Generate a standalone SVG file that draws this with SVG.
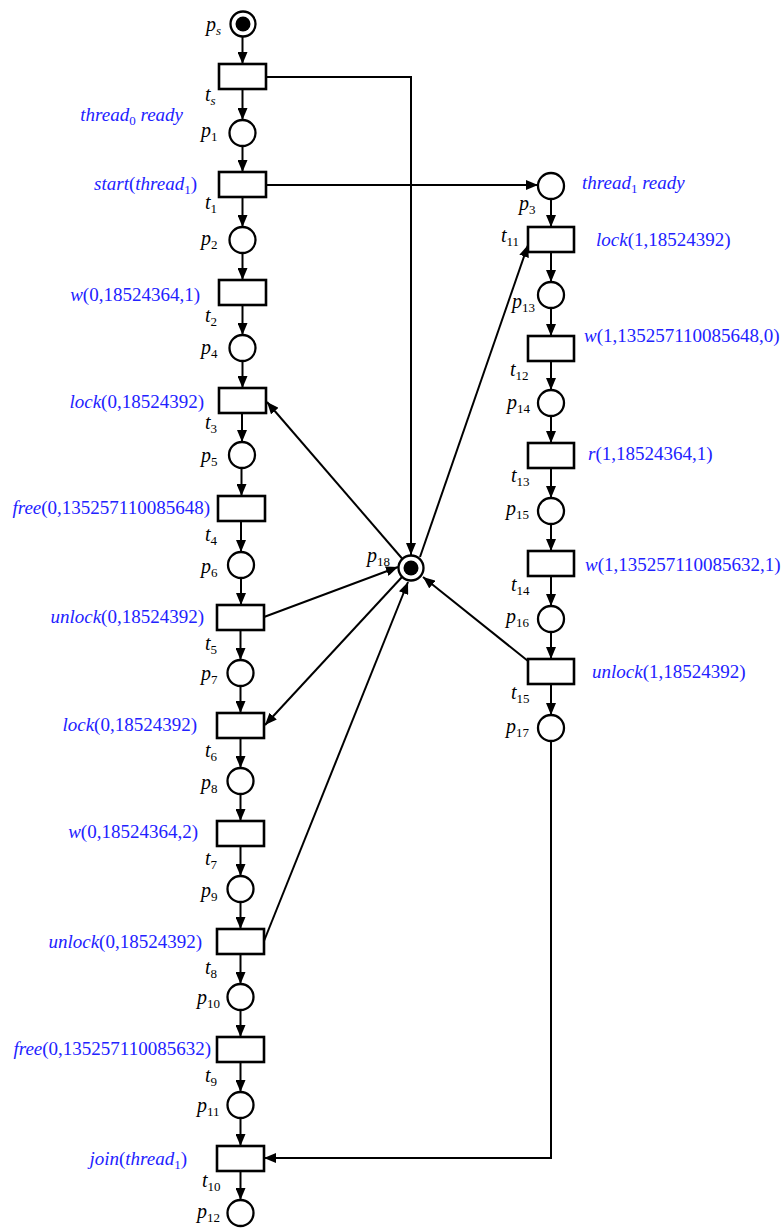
<svg xmlns="http://www.w3.org/2000/svg" width="783" height="1228" viewBox="0 0 783 1228">
<style>
.pl{fill:#fff;stroke:#000;stroke-width:2.3}
.tr{fill:#fff;stroke:#000;stroke-width:2.6}
.tok{fill:#000}
.arc{fill:none;stroke:#000;stroke-width:2;marker-end:url(#ah)}
text{font-family:"Liberation Serif","Times New Roman",serif;font-size:19px;fill:#000}
.k{font-size:20px}
.b{fill:#2222ff}
.i{font-style:italic}
.s{font-size:13px}
</style>
<defs>
<marker id="ah" markerUnits="userSpaceOnUse" markerWidth="13" markerHeight="10" refX="12" refY="5" orient="auto">
<path d="M0,0 L12,5 L0,10 z" fill="#000"/>
</marker>
</defs>
<rect width="783" height="1228" fill="#fff"/>

<g id="connectors">
<path class="arc" d="M242.5,37 V64"/>
<path class="arc" d="M242.5,89 V120"/>
<path class="arc" d="M242.5,146 V172"/>
<path class="arc" d="M242.5,197 V227"/>
<path class="arc" d="M242.5,253 V280"/>
<path class="arc" d="M242.5,305 V335"/>
<path class="arc" d="M242.5,361 V388"/>
<path class="arc" d="M242,413 V442"/>
<path class="arc" d="M241.5,468 V496"/>
<path class="arc" d="M241,521 V552"/>
<path class="arc" d="M241,578 V605"/>
<path class="arc" d="M240.5,630 V660"/>
<path class="arc" d="M240.5,686 V713"/>
<path class="arc" d="M240.5,738 V768"/>
<path class="arc" d="M240.5,794 V821"/>
<path class="arc" d="M240.5,846 V876"/>
<path class="arc" d="M240.5,902 V929"/>
<path class="arc" d="M240.5,954 V984"/>
<path class="arc" d="M240.5,1010 V1037"/>
<path class="arc" d="M240.5,1062 V1092"/>
<path class="arc" d="M240.5,1118 V1146"/>
<path class="arc" d="M240.5,1171 V1200"/>
<path class="arc" d="M551,199 V227"/>
<path class="arc" d="M551,252 V282"/>
<path class="arc" d="M551,308 V336"/>
<path class="arc" d="M551,361 V390"/>
<path class="arc" d="M551,416 V443"/>
<path class="arc" d="M551,468 V498"/>
<path class="arc" d="M551,524 V551"/>
<path class="arc" d="M551,576 V606"/>
<path class="arc" d="M551,632 V659"/>
<path class="arc" d="M551,684 V715"/>
<path class="arc" d="M266,77 H411 V555"/>
<path class="arc" d="M266,185 H538"/>
<path class="arc" d="M420,557 L528,245"/>
<path class="arc" d="M402.5,559 L267,402"/>
<path class="arc" d="M264,617 L398,567"/>
<path class="arc" d="M402,577 L265,725"/>
<path class="arc" d="M264,941 L408,582"/>
<path class="arc" d="M528,661 L423,577"/>
<path class="arc" d="M551,741 V1158 H264"/>
</g>

<g id="ps"><circle class="pl" cx="243" cy="24" r="12.5"/><circle class="tok" cx="243" cy="24" r="7.5"/></g>
<g id="ts"><rect class="tr" x="219" y="64" width="47" height="25"/></g>
<g id="p1"><circle class="pl" cx="242.5" cy="133" r="13"/></g>
<g id="t1"><rect class="tr" x="219" y="172" width="47" height="25"/></g>
<g id="p2"><circle class="pl" cx="242.5" cy="240" r="13"/></g>
<g id="t2"><rect class="tr" x="219" y="280" width="47" height="25"/></g>
<g id="p4"><circle class="pl" cx="242.5" cy="348" r="13"/></g>
<g id="t3"><rect class="tr" x="219" y="388" width="47" height="25"/></g>
<g id="p5"><circle class="pl" cx="242" cy="455" r="13"/></g>
<g id="t4"><rect class="tr" x="218" y="496" width="47" height="25"/></g>
<g id="p6"><circle class="pl" cx="241" cy="565" r="13"/></g>
<g id="t5"><rect class="tr" x="217" y="605" width="47" height="25"/></g>
<g id="p7"><circle class="pl" cx="240.5" cy="673" r="13"/></g>
<g id="t6"><rect class="tr" x="217" y="713" width="47" height="25"/></g>
<g id="p8"><circle class="pl" cx="240.5" cy="781" r="13"/></g>
<g id="t7"><rect class="tr" x="217" y="821" width="47" height="25"/></g>
<g id="p9"><circle class="pl" cx="240.5" cy="889" r="13"/></g>
<g id="t8"><rect class="tr" x="217" y="929" width="47" height="25"/></g>
<g id="p10"><circle class="pl" cx="240.5" cy="997" r="13"/></g>
<g id="t9"><rect class="tr" x="217" y="1037" width="47" height="25"/></g>
<g id="p11"><circle class="pl" cx="240.5" cy="1105" r="13"/></g>
<g id="t10"><rect class="tr" x="217" y="1146" width="47" height="25"/></g>
<g id="p12"><circle class="pl" cx="240.5" cy="1213" r="13"/></g>

<g id="p3"><circle class="pl" cx="551" cy="186" r="13"/></g>
<g id="t11"><rect class="tr" x="528" y="227" width="46" height="25"/></g>
<g id="p13"><circle class="pl" cx="551" cy="295" r="13"/></g>
<g id="t12"><rect class="tr" x="528" y="336" width="46" height="25"/></g>
<g id="p14"><circle class="pl" cx="551" cy="403" r="13"/></g>
<g id="t13"><rect class="tr" x="528" y="443" width="46" height="25"/></g>
<g id="p15"><circle class="pl" cx="551" cy="511" r="13"/></g>
<g id="t14"><rect class="tr" x="528" y="551" width="46" height="25"/></g>
<g id="p16"><circle class="pl" cx="551" cy="619" r="13"/></g>
<g id="t15"><rect class="tr" x="528" y="659" width="46" height="25"/></g>
<g id="p17"><circle class="pl" cx="551" cy="728" r="13"/></g>
<g id="p18"><circle class="pl" cx="411" cy="568" r="12.5"/><circle class="tok" cx="411" cy="568" r="7.5"/></g>

<g id="labels">
<text class="k" x="206" y="31"><tspan class="i">p</tspan><tspan class="s i" dy="4">s</tspan></text>
<text class="k" x="205" y="101"><tspan class="i">t</tspan><tspan class="s i" dy="4">s</tspan></text>
<text class="k" x="201" y="137"><tspan class="i">p</tspan><tspan class="s" dy="4">1</tspan></text>
<text class="k" x="205" y="209"><tspan class="i">t</tspan><tspan class="s" dy="4">1</tspan></text>
<text class="k" x="201" y="245"><tspan class="i">p</tspan><tspan class="s" dy="4">2</tspan></text>
<text class="k" x="205" y="322"><tspan class="i">t</tspan><tspan class="s" dy="4">2</tspan></text>
<text class="k" x="201" y="354"><tspan class="i">p</tspan><tspan class="s" dy="4">4</tspan></text>
<text class="k" x="205" y="429"><tspan class="i">t</tspan><tspan class="s" dy="4">3</tspan></text>
<text class="k" x="201" y="462"><tspan class="i">p</tspan><tspan class="s" dy="4">5</tspan></text>
<text class="k" x="205" y="541"><tspan class="i">t</tspan><tspan class="s" dy="4">4</tspan></text>
<text class="k" x="201" y="573"><tspan class="i">p</tspan><tspan class="s" dy="4">6</tspan></text>
<text class="k" x="205" y="650"><tspan class="i">t</tspan><tspan class="s" dy="4">5</tspan></text>
<text class="k" x="201" y="680"><tspan class="i">p</tspan><tspan class="s" dy="4">7</tspan></text>
<text class="k" x="205" y="757"><tspan class="i">t</tspan><tspan class="s" dy="4">6</tspan></text>
<text class="k" x="201" y="789"><tspan class="i">p</tspan><tspan class="s" dy="4">8</tspan></text>
<text class="k" x="205" y="865"><tspan class="i">t</tspan><tspan class="s" dy="4">7</tspan></text>
<text class="k" x="201" y="897"><tspan class="i">p</tspan><tspan class="s" dy="4">9</tspan></text>
<text class="k" x="205" y="974"><tspan class="i">t</tspan><tspan class="s" dy="4">8</tspan></text>
<text class="k" x="197" y="1004"><tspan class="i">p</tspan><tspan class="s" dy="4">10</tspan></text>
<text class="k" x="205" y="1082"><tspan class="i">t</tspan><tspan class="s" dy="4">9</tspan></text>
<text class="k" x="197" y="1112"><tspan class="i">p</tspan><tspan class="s" dy="4">11</tspan></text>
<text class="k" x="202" y="1187"><tspan class="i">t</tspan><tspan class="s" dy="4">10</tspan></text>
<text class="k" x="197" y="1218"><tspan class="i">p</tspan><tspan class="s" dy="4">12</tspan></text>

<text class="k" x="519" y="210"><tspan class="i">p</tspan><tspan class="s" dy="4">3</tspan></text>
<text class="k" x="501" y="242"><tspan class="i">t</tspan><tspan class="s" dy="4">11</tspan></text>
<text class="k" x="512" y="308"><tspan class="i">p</tspan><tspan class="s" dy="4">13</tspan></text>
<text class="k" x="510" y="376"><tspan class="i">t</tspan><tspan class="s" dy="4">12</tspan></text>
<text class="k" x="507" y="409"><tspan class="i">p</tspan><tspan class="s" dy="4">14</tspan></text>
<text class="k" x="511" y="482"><tspan class="i">t</tspan><tspan class="s" dy="4">13</tspan></text>
<text class="k" x="506" y="515"><tspan class="i">p</tspan><tspan class="s" dy="4">15</tspan></text>
<text class="k" x="511" y="591"><tspan class="i">t</tspan><tspan class="s" dy="4">14</tspan></text>
<text class="k" x="506" y="623"><tspan class="i">p</tspan><tspan class="s" dy="4">16</tspan></text>
<text class="k" x="511" y="699"><tspan class="i">t</tspan><tspan class="s" dy="4">15</tspan></text>
<text class="k" x="506" y="733"><tspan class="i">p</tspan><tspan class="s" dy="4">17</tspan></text>
<text class="k" x="367" y="562"><tspan class="i">p</tspan><tspan class="s" dy="4">18</tspan></text>

<text class="b" x="183" y="121" text-anchor="end"><tspan class="i">thread</tspan><tspan class="s" dy="4">0</tspan><tspan class="i" dy="-4">&#160;ready</tspan></text>
<text class="b" x="197" y="190" text-anchor="end"><tspan class="i">start</tspan>(<tspan class="i">thread</tspan><tspan class="s" dy="4">1</tspan><tspan dy="-4">)</tspan></text>
<text class="b" x="200" y="301" text-anchor="end"><tspan class="i">w</tspan>(0,18524364,1)</text>
<text class="b" x="204" y="408" text-anchor="end"><tspan class="i">lock</tspan>(0,18524392)</text>
<text class="b" x="210" y="514" text-anchor="end"><tspan class="i">free</tspan>(0,135257110085648)</text>
<text class="b" x="204" y="623" text-anchor="end"><tspan class="i">unlock</tspan>(0,18524392)</text>
<text class="b" x="197" y="731" text-anchor="end"><tspan class="i">lock</tspan>(0,18524392)</text>
<text class="b" x="198" y="838" text-anchor="end"><tspan class="i">w</tspan>(0,18524364,2)</text>
<text class="b" x="202" y="948" text-anchor="end"><tspan class="i">unlock</tspan>(0,18524392)</text>
<text class="b" x="211" y="1055" text-anchor="end"><tspan class="i">free</tspan>(0,135257110085632)</text>
<text class="b" x="187" y="1165" text-anchor="end"><tspan class="i">join</tspan>(<tspan class="i">thread</tspan><tspan class="s" dy="4">1</tspan><tspan dy="-4">)</tspan></text>

<text class="b" x="582" y="189"><tspan class="i">thread</tspan><tspan class="s" dy="4">1</tspan><tspan class="i" dy="-4">&#160;ready</tspan></text>
<text class="b" x="596" y="246"><tspan class="i">lock</tspan>(1,18524392)</text>
<text class="b" x="584" y="342"><tspan class="i">w</tspan>(1,135257110085648,0)</text>
<text class="b" x="588" y="460"><tspan class="i">r</tspan>(1,18524364,1)</text>
<text class="b" x="585" y="571"><tspan class="i">w</tspan>(1,135257110085632,1)</text>
<text class="b" x="592" y="678"><tspan class="i">unlock</tspan>(1,18524392)</text>
</g>
</svg>
